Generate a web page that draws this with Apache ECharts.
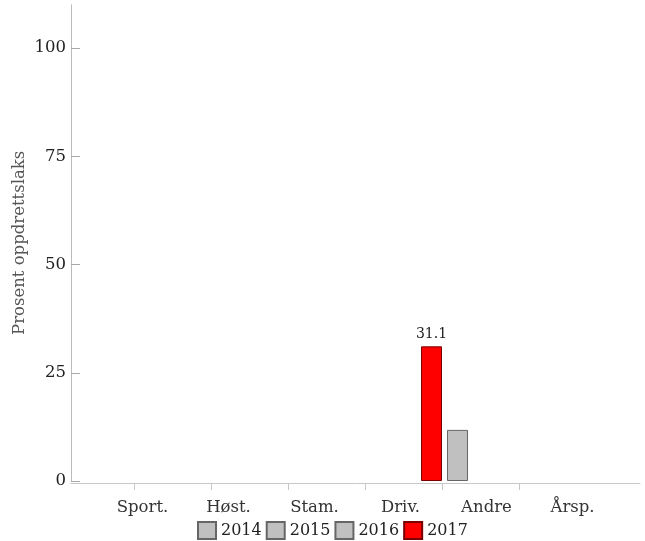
<!DOCTYPE html>
<html><head><meta charset="utf-8">
<script src="https://cdn.jsdelivr.net/npm/echarts@6/dist/echarts.min.js"></script>
<style>html,body{margin:0;padding:0;background:#fff}#c{width:645px;height:541px}</style>
</head><body><div id="c"></div>
<script>
const categories = ['Sport.', 'Høst.', 'Stam.', 'Driv.', 'Andre', 'Årsp.'];
const years = ['2014', '2015', '2016', '2017'];
const v2014 = [null, null, null, null, 11.8, null];
const v2015 = [null, null, null, null, null, null];
const v2016 = [null, null, null, null, null, null];
const v2017 = [null, null, null, 31.1, null, null];
const yTicks = [0, 25, 50, 75, 100];
const yMax = 110;

const FONT = 'DejaVu Serif';
const grey = {color: '#c0c0c0', borderColor: '#666', borderWidth: 1};
const red = {color: '#ff0000', borderColor: '#7a0000', borderWidth: 1};
const styles = [grey, grey, grey, red];
const values = [v2014, v2015, v2016, v2017];

const gTop = 4.7, gBottom = 60;
const hiddenY = (gi) => ({type: 'value', gridIndex: gi, min: 0, max: yMax, show: false});

const chart = echarts.init(document.getElementById('c'), null, {renderer: 'canvas'});
chart.setOption({
  backgroundColor: '#fff',
  animation: false,
  textStyle: {fontFamily: FONT},
  grid: [
    {left: 99.5, right: 29.5, top: gTop, bottom: gBottom},
    {left: 43.5, right: 0, top: gTop, bottom: gBottom},
    {left: 71, right: 5, top: gTop, bottom: 58},
    {left: 134, right: 126, top: gTop, bottom: 58}
  ],
  legend: {
    data: years, left: 192, top: 516, itemWidth: 18, itemHeight: 17, itemGap: 4,
    icon: 'rect',
    textStyle: {fontFamily: FONT, fontSize: 16, color: '#222'}
  },
  xAxis: [
    {type: 'category', gridIndex: 0, data: categories, axisLine: {show: false}, axisTick: {show: false},
     axisLabel: {fontFamily: FONT, fontSize: 16.5, color: '#333', margin: 18}},
    {type: 'category', gridIndex: 1, data: categories, show: false},
    {type: 'value', gridIndex: 2, min: 0, max: 1, axisLine: {show: true, lineStyle: {color: '#c8c8c8', width: 1}},
     axisTick: {show: false}, axisLabel: {show: false}, splitLine: {show: false}},
    {type: 'value', gridIndex: 3, min: 0, max: 385, interval: 77, axisLine: {show: false},
     axisTick: {show: true, length: 7, lineStyle: {color: '#c8c8c8'}}, axisLabel: {show: false}, splitLine: {show: false}}
  ],
  yAxis: [
    {type: 'value', gridIndex: 0, min: 0, max: yMax, offset: 28.5,
     name: 'Prosent oppdrettslaks', nameLocation: 'middle', nameGap: 43, nameMoveOverlap: false,
     nameTextStyle: {fontFamily: FONT, fontSize: 16.5, color: '#555'},
     axisLine: {show: true, lineStyle: {color: '#bbb', width: 1}},
     axisTick: {show: true, inside: true, length: 9, lineStyle: {color: '#aaa'}, customValues: yTicks},
     axisLabel: {fontFamily: FONT, fontSize: 16.5, color: '#222', margin: 5, customValues: yTicks},
     splitLine: {show: false}},
    hiddenY(1), hiddenY(2), hiddenY(3)
  ],
  series: years.map((y, i) => ({
    name: y, type: 'bar', xAxisIndex: 1, yAxisIndex: 1,
    data: values[i], barWidth: 21, barGap: '17.86%',
    itemStyle: styles[i],
    label: i === 3 ? {show: true, position: 'top', distance: 5, fontFamily: FONT, fontSize: 14, color: '#222'} : {show: false}
  }))
});
</script></body></html>
